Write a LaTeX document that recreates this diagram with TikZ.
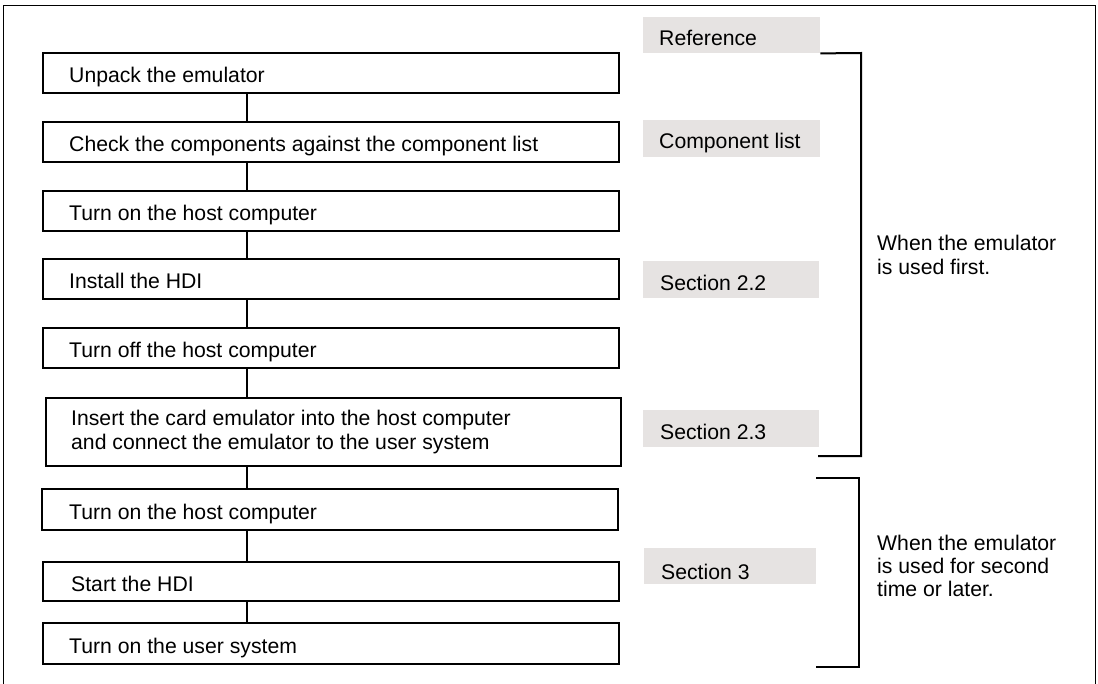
\documentclass[tikz,border=0pt]{standalone}
\usepackage{fontspec}
\setmainfont{Liberation Sans}
\definecolor{refgray}{RGB}{230,227,226}
\begin{document}
\begin{tikzpicture}[x=1pt,y=-1pt,
  stepbox/.style={draw=black,line width=2pt,inner sep=0pt,anchor=north west},
  graybox/.style={fill=refgray,draw=none,inner sep=0pt,anchor=north west},
  txt/.style={anchor=base west,inner sep=0pt,font=\fontsize{21.2}{24}\selectfont},
  link/.style={line width=2pt},
  brk/.style={line width=2pt}]
\useasboundingbox (0,0) rectangle (1098,683);
\draw[line width=1pt] (3,690) -- (3,5) -- (1095,5) -- (1095,690);
% step boxes
\node[stepbox,minimum width=576pt,minimum height=40pt] (b1) at (42,52) {};
\node[stepbox,minimum width=576pt,minimum height=40pt] (b2) at (42,121) {};
\node[stepbox,minimum width=576pt,minimum height=40pt] (b3) at (42,190) {};
\node[stepbox,minimum width=576pt,minimum height=40pt] (b4) at (42,258) {};
\node[stepbox,minimum width=576pt,minimum height=40pt] (b5) at (42,327) {};
\node[stepbox,minimum width=575pt,minimum height=68pt] (b6) at (45,397) {};
\node[stepbox,minimum width=576pt,minimum height=41pt] (b7) at (41,488) {};
\node[stepbox,minimum width=576pt,minimum height=39pt] (b8) at (42,561) {};
\node[stepbox,minimum width=576pt,minimum height=41pt] (b9) at (42,622) {};
\node[txt] (t1) at (69,82.5) {Unpack the emulator};
\node[txt] (t2) at (69,151.5) {Check the components against the component list};
\node[txt] (t3) at (69,220.5) {Turn on the host computer};
\node[txt] (t4) at (69,288.5) {Install the HDI};
\node[txt] (t5) at (69,357.5) {Turn off the host computer};
\node[txt] (t6a) at (71,425) {Insert the card emulator into the host computer};
\node[txt] (t6b) at (71,449) {and connect the emulator to the user system};
\node[txt] (t7) at (69,519) {Turn on the host computer};
\node[txt] (t8) at (71,591) {Start the HDI};
\node[txt] (t9) at (69,653) {Turn on the user system};
% connectors
\coordinate (cx) at (247,0);
\draw[link] (b1.south -| cx) -- (b2.north -| cx);
\draw[link] (b2.south -| cx) -- (b3.north -| cx);
\draw[link] (b3.south -| cx) -- (b4.north -| cx);
\draw[link] (b4.south -| cx) -- (b5.north -| cx);
\draw[link] (b5.south -| cx) -- (b6.north -| cx);
\draw[link] (b6.south -| cx) -- (b7.north -| cx);
\draw[link] (b7.south -| cx) -- (b8.north -| cx);
\draw[link] (b8.south -| cx) -- (b9.north -| cx);
% reference boxes
\node[graybox,minimum width=177pt,minimum height=36pt] (g1) at (643,17) {};
\node[graybox,minimum width=177pt,minimum height=37pt] (g2) at (643,120) {};
\node[graybox,minimum width=176pt,minimum height=37pt] (g3) at (643,261) {};
\node[graybox,minimum width=176pt,minimum height=37pt] (g4) at (643,410) {};
\node[graybox,minimum width=172pt,minimum height=36pt] (g5) at (644,548) {};
\node[txt] (r1) at (659,45) {Reference};
\node[txt] (r2) at (659,148) {Component list};
\node[txt] (r3) at (660,290) {Section 2.2};
\node[txt] (r4) at (660,439) {Section 2.3};
\node[txt] (r5) at (661,579) {Section 3};
% brackets
\coordinate (k1a) at (861,53);
\coordinate (k1b) at (861,456);
\coordinate (k1e) at (818,456);
\draw[brk] (g1.south east) -- (k1a) -- (k1b) -- (k1e);
\coordinate (k2s) at (816,478);
\coordinate (k2a) at (859,478);
\coordinate (k2b) at (859,667);
\coordinate (k2e) at (816,667);
\draw[brk] (k2s) -- (k2a) -- (k2b) -- (k2e);
% bracket texts
\node[txt] (w1a) at (877,250) {When the emulator};
\node[txt] (w1b) at (877,274) {is used first.};
\node[txt] (w2a) at (877,550) {When the emulator};
\node[txt] (w2b) at (877,573) {is used for second};
\node[txt] (w2c) at (877,596) {time or later.};
\end{tikzpicture}
\end{document}
